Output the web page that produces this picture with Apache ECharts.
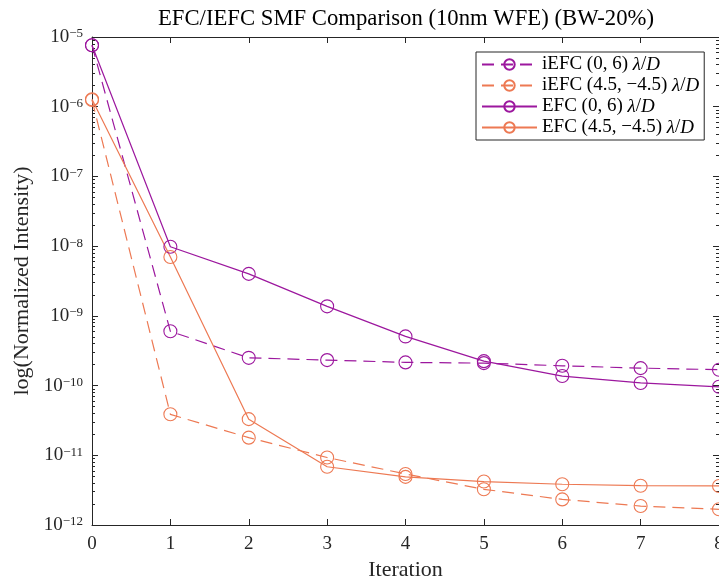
<!DOCTYPE html>
<html><head><meta charset="utf-8">
<script src="https://cdn.jsdelivr.net/npm/echarts@6/dist/echarts.min.js"></script>
<style>html,body{margin:0;padding:0;background:#fff}#c{width:719px;height:578px}</style>
</head><body><div id="c"></div>
<script>
// ---- data ----
const iterations = [0, 1, 2, 3, 4, 5, 6, 7, 8];
const iefc06 = [7.6e-6, 6.0e-10, 2.5e-10, 2.32e-10, 2.15e-10, 2.1e-10, 1.92e-10, 1.78e-10, 1.69e-10];
const iefc45 = [1.25e-6, 3.87e-11, 1.79e-11, 9.3e-12, 5.4e-12, 3.25e-12, 2.33e-12, 1.87e-12, 1.68e-12];
const efc06 = [7.6e-6, 9.8e-9, 4.0e-9, 1.37e-9, 5.07e-10, 2.24e-10, 1.37e-10, 1.09e-10, 9.6e-11];
const efc45 = [1.28e-6, 7.0e-9, 3.3e-11, 6.85e-12, 4.9e-12, 4.2e-12, 3.84e-12, 3.66e-12, 3.63e-12];
const seriesNames = ['iEFC (0, 6)', 'iEFC (4.5, \u22124.5)', 'EFC (0, 6)', 'EFC (4.5, \u22124.5)'];
const xTickLabels = ['0', '1', '2', '3', '4', '5', '6', '7', '8'];
const yDecades = [-12, -11, -10, -9, -8, -7, -6, -5];
const minorMantissas = [2, 3, 4, 5, 6, 7, 8, 9];
const titleText = 'EFC/IEFC SMF Comparison (10nm WFE) (BW-20%)';
const xName = 'Iteration';
const yName = 'log(Normalized Intensity)';

// ---- style ----
const FONT = 'Liberation Serif';
const AX = '#262626';
const PURPLE = '#9c179e';
const ORANGE = '#ed7953';
const GRID_LEFT = 92, GRID_RIGHT = 0, CHART_W = 719;
const PLOT_W = CHART_W - GRID_LEFT - GRID_RIGHT;

// minor tick positions (in log10 space) for the decoration axes
const yMinorLog = [];
yDecades.slice(0, -1).forEach(d => minorMantissas.forEach(m => yMinorLog.push(d + Math.log10(m))));

function mk(name, data, color, dashed) {
  return {
    name: name, type: 'line',
    data: iterations.map((x, i) => [x, data[i]]),
    symbol: 'circle', symbolSize: 13, showSymbol: true,
    lineStyle: { color: color, width: 1.2, type: dashed ? [12, 7] : 'solid' },
    itemStyle: { color: 'rgba(255,255,255,0)', borderColor: color, borderWidth: 1.1 },
    emphasis: { disabled: true },
    animation: false
  };
}

const baseY = {
  type: 'log', logBase: 10, min: 1e-12, max: 1e-5, interval: 1,
  splitLine: { show: false }
};
// minor-tick decoration axes, each alone on the right side of its own overlay grid
const minorY = (gridIndex, offset, inside) => ({
  gridIndex: gridIndex,
  type: 'value', min: yDecades[0], max: yDecades[yDecades.length - 1], interval: 1,
  position: 'right', offset: offset,
  axisLine: { show: false, onZero: false },
  axisTick: { show: true, inside: inside, length: 3, customValues: yMinorLog, lineStyle: { color: AX, width: 1 } },
  axisLabel: { show: false },
  splitLine: { show: false }
});
const gridBox = { left: GRID_LEFT, right: GRID_RIGHT, top: 37, bottom: 53, containLabel: false, outerBoundsMode: 'none' };

const chart = echarts.init(document.getElementById('c'), null, { renderer: 'canvas' });
chart.setOption({
  animation: false,
  backgroundColor: '#fff',
  title: {
    text: titleText, left: 401, top: 3, textAlign: 'center',
    textStyle: { fontFamily: FONT, fontSize: 22.7, fontWeight: 'normal', color: '#000' }
  },
  grid: [Object.assign({}, gridBox), Object.assign({}, gridBox), Object.assign({}, gridBox)],
  legend: {
    orient: 'vertical', left: 476, top: 52,
    padding: [3, 5, 3, 5], itemGap: 2, itemWidth: 55, itemHeight: 13,
    backgroundColor: '#fff', borderColor: AX, borderWidth: 1,
    data: seriesNames,
    formatter: n => '{n|' + n + ' }{i|\u03bb}{n|/}{i|D}',
    textStyle: {
      fontFamily: FONT, fontSize: 19, lineHeight: 19, color: '#000',
      rich: {
        n: { fontFamily: FONT, fontSize: 19, lineHeight: 19, color: '#000' },
        i: { fontFamily: FONT, fontSize: 19, lineHeight: 19, fontStyle: 'italic', color: '#000' }
      }
    }
  },
  xAxis: [
    {
      type: 'value', min: 0, max: 8, interval: 1, position: 'bottom',
      axisLine: { show: true, lineStyle: { color: AX, width: 1 } },
      axisTick: { show: true, inside: true, length: 6, lineStyle: { color: AX } },
      axisLabel: { margin: 10, fontFamily: FONT, fontSize: 19, color: AX,
        formatter: v => xTickLabels[Math.round(v)] },
      splitLine: { show: false },
      name: xName, nameLocation: 'middle', nameGap: 31,
      nameTextStyle: { fontFamily: FONT, fontSize: 22, color: AX }
    },
    {
      type: 'value', min: 0, max: 8, interval: 1, position: 'top',
      axisLine: { show: true, onZero: false, lineStyle: { color: AX, width: 1 } },
      axisTick: { show: true, inside: true, length: 6, lineStyle: { color: AX } },
      axisLabel: { show: false }, splitLine: { show: false }
    },
    { gridIndex: 1, type: 'value', min: 0, max: 8, show: false },
    { gridIndex: 2, type: 'value', min: 0, max: 8, show: false }
  ],
  yAxis: [
    Object.assign({}, baseY, {
      position: 'left',
      axisLine: { show: true, lineStyle: { color: AX, width: 1 } },
      axisTick: { show: true, inside: true, length: 6, lineStyle: { color: AX } },
      axisLabel: {
        margin: 9, color: AX,
        formatter: v => {
          const e = Math.round(Math.log10(v));
          return '{b|10}{s|\u2212' + (-e) + '}';
        },
        rich: {
          b: { fontFamily: FONT, fontSize: 19, lineHeight: 19, color: AX },
          s: { fontFamily: FONT, fontSize: 13, lineHeight: 11, verticalAlign: 'top', color: AX }
        }
      },
      name: yName, nameLocation: 'middle', nameGap: 57, nameRotate: 90,
      nameTextStyle: { fontFamily: FONT, fontSize: 22, color: AX }
    }),
    Object.assign({}, baseY, {
      position: 'right',
      axisLine: { show: true, onZero: false, lineStyle: { color: AX, width: 1 } },
      axisTick: { show: true, inside: true, length: 6, lineStyle: { color: AX } },
      axisLabel: { show: false }
    }),
    // left-edge minor ticks: a right-side axis shifted onto the left edge, ticks pointing into the plot
    minorY(1, -PLOT_W, false),
    // right-edge minor ticks
    minorY(2, 0, true)
  ],
  series: [
    mk(seriesNames[0], iefc06, PURPLE, true),
    mk(seriesNames[1], iefc45, ORANGE, true),
    mk(seriesNames[2], efc06, PURPLE, false),
    mk(seriesNames[3], efc45, ORANGE, false)
  ]
});
</script>
</body></html>
